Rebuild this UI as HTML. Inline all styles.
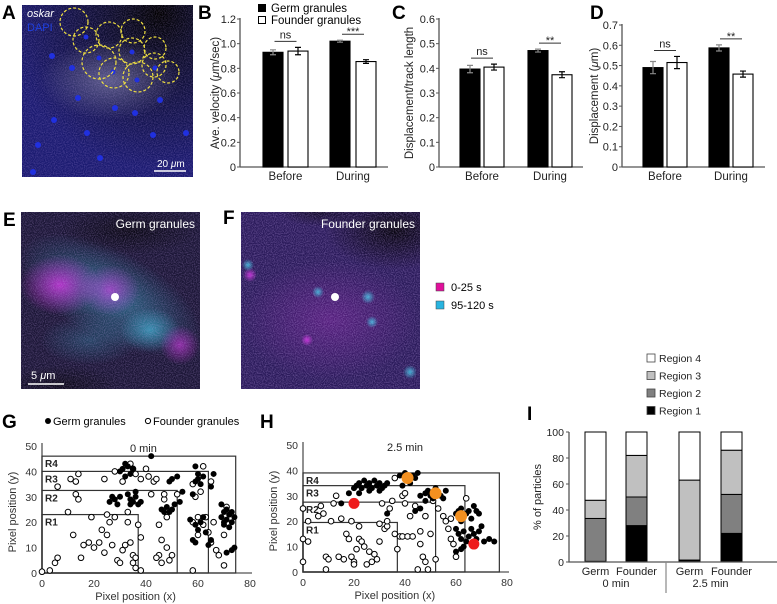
<!DOCTYPE html>
<html><head><meta charset="utf-8"><style>
html,body{margin:0;padding:0;background:#fff;}
svg{display:block;font-family:"Liberation Sans",Arial,sans-serif;}
</style></head><body>
<svg id="fig" width="777" height="604" viewBox="0 0 777 604">
<defs>
<radialGradient id="gA" cx="0.8" cy="0.05" r="0.9"><stop offset="0" stop-color="#000"/><stop offset="0.25" stop-color="#0b0b24"/><stop offset="1" stop-color="#1a1a70"/></radialGradient>
<radialGradient id="wh" cx="0.5" cy="0.5" r="0.5"><stop offset="0" stop-color="#8a8ab8" stop-opacity="0.6"/><stop offset="1" stop-color="#8a8ab8" stop-opacity="0"/></radialGradient>
<radialGradient id="mg" cx="0.5" cy="0.5" r="0.5"><stop offset="0" stop-color="#d030e0" stop-opacity="0.9"/><stop offset="1" stop-color="#d030e0" stop-opacity="0"/></radialGradient>
<radialGradient id="cy" cx="0.5" cy="0.5" r="0.5"><stop offset="0" stop-color="#40c0e0" stop-opacity="0.9"/><stop offset="1" stop-color="#40c0e0" stop-opacity="0"/></radialGradient>
<radialGradient id="dk" cx="0.5" cy="0.5" r="0.5"><stop offset="0" stop-color="#000" stop-opacity="0.9"/><stop offset="1" stop-color="#000" stop-opacity="0"/></radialGradient>
<filter id="noise" x="0" y="0" width="100%" height="100%"><feTurbulence type="fractalNoise" baseFrequency="0.9" numOctaves="1" seed="3"/><feColorMatrix type="matrix" values="0 0 0 0 0.6  0 0 0 0 0.4  0 0 0 0 0.9  0 0 0 1.2 -0.45"/></filter>
<clipPath id="clipE"><rect x="21" y="212" width="179" height="177"/></clipPath>
<clipPath id="clipF"><rect x="241" y="212" width="179" height="177"/></clipPath>
<clipPath id="clipA"><rect x="22" y="5" width="171" height="172"/></clipPath>
</defs>

<!-- Panel A -->
<g clip-path="url(#clipA)">
<rect x="22" y="5" width="171" height="172" fill="url(#gA)"/>
<ellipse cx="110" cy="80" rx="70" ry="40" fill="url(#wh)"/>
<rect x="22" y="5" width="171" height="172" filter="url(#noise)" opacity="0.5"/>
<g fill="#2030e0">
<circle cx="52" cy="56" r="3"/><circle cx="72" cy="68" r="3"/><circle cx="78" cy="98" r="3"/><circle cx="54" cy="120" r="3"/><circle cx="115" cy="108" r="3"/><circle cx="135" cy="113" r="3"/><circle cx="87" cy="133" r="3"/><circle cx="38" cy="145" r="3"/><circle cx="100" cy="158" r="3"/><circle cx="153" cy="135" r="3"/><circle cx="33" cy="172" r="3"/><circle cx="186" cy="133" r="3"/><circle cx="160" cy="100" r="3"/><circle cx="86" cy="37" r="2.5"/><circle cx="99" cy="58" r="2.5"/><circle cx="113" cy="72" r="2.5"/><circle cx="137" cy="80" r="2.5"/><circle cx="132" cy="52" r="2.5"/><circle cx="155" cy="68" r="2.5"/></g>
<g fill="none" stroke="#f0e040" stroke-width="1.2" stroke-dasharray="3,2">
<circle cx="74" cy="22" r="14"/><circle cx="86" cy="40" r="13"/><circle cx="109" cy="35" r="13"/><circle cx="133" cy="31" r="12"/><circle cx="132" cy="51" r="13"/><circle cx="155" cy="48" r="11"/><circle cx="99" cy="62" r="17"/><circle cx="114" cy="73" r="15"/><circle cx="138" cy="77" r="15"/><circle cx="154" cy="65" r="12"/><circle cx="168" cy="72" r="11"/></g>
<text x="27" y="17" font-size="11" font-style="italic" fill="#fff">oskar</text>
<text x="27" y="31" font-size="11" fill="#2040e0">DAPI</text>
<line x1="154" y1="171" x2="186" y2="171" stroke="#fff" stroke-width="1.5"/>
<text x="157" y="167" font-size="10" fill="#fff">20 <tspan font-style="italic">μ</tspan>m</text>
</g>
<text x="2" y="19" font-size="19" font-weight="bold">A</text>

<!-- Panels E, F -->
<g>
<text x="3" y="226" font-size="19" font-weight="bold">E</text>
<g clip-path="url(#clipE)">
<rect x="21" y="212" width="179" height="177" fill="#1a1535"/>
<ellipse cx="110" cy="295" rx="100" ry="45" transform="rotate(28 110 295)" fill="url(#cy)" opacity="0.55"/>
<ellipse cx="60" cy="285" rx="40" ry="30" fill="url(#mg)" opacity="0.9"/>
<ellipse cx="110" cy="290" rx="30" ry="25" fill="url(#mg)" opacity="0.7"/>
<ellipse cx="150" cy="330" rx="30" ry="22" fill="url(#cy)" opacity="0.7"/>
<ellipse cx="180" cy="345" rx="20" ry="20" fill="url(#mg)" opacity="0.7"/>
<ellipse cx="90" cy="340" rx="50" ry="25" fill="url(#cy)" opacity="0.3"/>
<ellipse cx="130" cy="230" rx="70" ry="25" fill="url(#dk)" opacity="0.7"/>
<ellipse cx="60" cy="385" rx="60" ry="20" fill="url(#dk)" opacity="0.6"/>
<rect x="21" y="212" width="179" height="177" filter="url(#noise)" opacity="0.6"/>
</g>
<text x="195" y="228" font-size="12" fill="#fff" text-anchor="end">Germ granules</text>
<circle cx="115" cy="297" r="4" fill="#fff"/>
<line x1="28" y1="384" x2="64" y2="384" stroke="#fff" stroke-width="1.5"/>
<text x="31" y="379" font-size="11" fill="#fff">5 <tspan font-style="italic">μ</tspan>m</text>
</g>
<g>
<text x="223" y="224" font-size="19" font-weight="bold">F</text>
<g clip-path="url(#clipF)">
<rect x="241" y="212" width="179" height="177" fill="#2a1a5a"/>
<ellipse cx="330" cy="320" rx="90" ry="60" fill="url(#mg)" opacity="0.3"/>
<ellipse cx="395" cy="230" rx="70" ry="40" fill="url(#dk)" opacity="0.95"/>
<ellipse cx="320" cy="212" rx="40" ry="15" fill="url(#dk)" opacity="0.6"/>
<circle cx="250" cy="275" r="7" fill="url(#mg)"/><circle cx="248" cy="265" r="6" fill="url(#cy)"/>
<circle cx="318" cy="292" r="6" fill="url(#cy)"/><circle cx="307" cy="340" r="6" fill="url(#mg)"/>
<circle cx="368" cy="297" r="7" fill="url(#cy)"/><circle cx="372" cy="322" r="6" fill="url(#cy)"/>
<circle cx="410" cy="372" r="7" fill="url(#cy)"/>
<rect x="241" y="212" width="179" height="177" filter="url(#noise)" opacity="0.7"/>
</g>
<text x="415" y="228" font-size="12" fill="#fff" text-anchor="end">Founder granules</text>
<circle cx="335" cy="297" r="4" fill="#fff"/>
<rect x="436" y="283" width="8" height="8" fill="#e0109b" stroke="#444" stroke-width="0.5"/>
<text x="451" y="291" font-size="11">0-25 s</text>
<rect x="436" y="301" width="8" height="8" fill="#28b4e0" stroke="#444" stroke-width="0.5"/>
<text x="451" y="309" font-size="11">95-120 s</text>
</g>

<g id="charts"></g>
</svg>
<script>
// ---------- Bar chart data (B, C, D) ----------
const barGroups = ["Before", "During"];
const velMeans = [0.93, 0.94, 1.02, 0.855];
const velErr = [0.02, 0.03, 0.008, 0.015];
const ratioMeans = [0.397, 0.405, 0.472, 0.374];
const ratioErr = [0.015, 0.012, 0.006, 0.012];
const dispMeans = [0.49, 0.515, 0.587, 0.458];
const dispErr = [0.03, 0.03, 0.015, 0.015];
const velTicks = ["0", "0.2", "0.4", "0.6", "0.8", "1.0", "1.2"];
const ratioTicks = ["0", "0.1", "0.2", "0.3", "0.4", "0.5", "0.6"];
const dispTicks = ["0", "0.1", "0.2", "0.3", "0.4", "0.5", "0.6", "0.7"];
const sigLabels = ["ns", "***", "**", "**"];

// ---------- Scatter data (G, H): [x, y] ----------
const gGerm = [[31,41],[32,43],[33,42],[30,40],[34,39],[32,38],[35,41],[42,46],[26,28],[28,29],[29,27],[30,30],[27,30],[33,31],[34,29],[35,28],[36,30],[37,27],[38,28],[34,27],[36,32],[46,25],[48,26],[50,25],[49,24],[51,27],[47,24],[50,37],[49,36],[52,38],[54,32],[53,28],[59,42],[60,37],[59,36],[61,35],[62,38],[60,39],[66,39],[58,31],[57,21],[59,19],[60,17],[62,22],[61,20],[63,16],[58,13],[59,12],[64,11],[65,13],[69,22],[70,24],[71,21],[72,23],[73,20],[70,19],[71,25],[72,18],[74,22],[69,27],[70,20],[73,24],[74,10],[73,9],[71,8],[65,34]];
const gFounder = [[0,0.5],[3,1],[5,4],[6,6],[6,34],[10,24],[11,37],[12,15],[13,36],[14,39],[13,31],[14,29],[15,6],[16,11],[18,12],[19,22],[20,10],[22,12],[23,17],[24,8],[25,15],[25,23],[26,20],[27,11],[28,40],[28,22],[29,5],[30,4],[31,9],[32,11],[33,20],[34,12],[35,7],[35,4],[36,6],[37,19],[38,14],[36,2],[38,1],[34,43],[35,41],[36,39],[38,37],[40,41],[41,38],[42,31],[43,36],[44,37],[45,19],[45,7],[44,6],[46,13],[46,4],[47,29],[48,10],[49,5],[50,7],[48,22],[47,31],[52,31],[58,1],[58,35],[59,30],[60,22],[60,15],[61,32],[62,19],[63,22],[65,36],[64,16],[65,12],[66,20],[67,9],[68,7],[70,3],[70,15],[71,26],[62,42],[58,20],[24,37],[31,36],[33,24]];
const hGerm = [[20,33],[21,34],[22,35],[23,33],[24,36],[25,34],[26,35],[27,33],[28,36],[29,34],[30,35],[31,33],[32,34],[33,35],[22,31],[26,32],[30,32],[18,31],[38,38],[40,39],[41,36],[42,35],[43,38],[44,37],[39,34],[45,39],[46,30],[48,31],[49,32],[50,30],[51,29],[52,33],[53,31],[54,30],[55,29],[56,32],[48,28],[44,24],[46,25],[33,23],[60,23],[61,24],[62,25],[63,22],[64,23],[65,24],[66,21],[67,26],[68,24],[69,23],[62,20],[60,17],[61,15],[62,13],[63,16],[64,12],[65,14],[66,17],[67,15],[68,13],[69,16],[63,10],[60,8],[62,9],[66,11],[71,12],[73,13],[75,12],[70,18],[15,27]];
const hFounder = [[0,25],[0,13],[0,4],[2,20],[2,12],[6,22],[7,26],[8,23],[9,6],[9,1],[10,5],[11,20],[12,27],[13,30],[14,6],[15,21],[16,5],[17,15],[18,13],[19,20],[19,6],[20,4],[20,3],[21,9],[22,13],[23,12],[22,18],[24,10],[25,3],[26,8],[27,4],[28,7],[29,5],[30,19],[30,12],[31,27],[32,17],[33,18],[34,25],[35,28],[36,15],[37,9],[38,14],[39,14],[40,27],[41,14],[42,22],[43,14],[44,26],[45,1],[46,11],[46,16],[47,6],[48,4],[48,22],[49,1],[50,15],[51,28],[52,5],[53,25],[55,22],[56,20],[57,17],[58,13],[59,11],[60,6],[39,30],[36,37],[40,31],[64,29],[58,21],[33,20]];
const hHighlightOrange = [[41,37],[52,31],[62,22]];
const hHighlightRed = [[20,27],[67,11]];

// ---------- Stacked bar data (I) ----------
const stackCats = ["Germ", "Founder", "Germ", "Founder"];
const region1 = [0.5, 28, 1.5, 22];
const region2 = [33, 22, 0, 30];
const region3 = [14, 32, 61.5, 34];
const region4 = [52.5, 18, 37, 14];
const stackTicks = ["0", "20", "40", "60", "80", "100"];
const timeLabels = ["0 min", "2.5 min"];

const NS = "http://www.w3.org/2000/svg";
const root = document.getElementById("charts");
function mk(tag, attrs, parent, text) {
  const e = document.createElementNS(NS, tag);
  for (const k in attrs) e.setAttribute(k, attrs[k]);
  if (text !== undefined) e.textContent = text;
  (parent || root).appendChild(e);
  return e;
}

// ---------- bar charts ----------
function barChart(cfg) {
  const g = mk("g", {});
  
  
  const tmax = parseFloat(cfg.ticks[cfg.ticks.length - 1]);
  const y = v => cfg.y0 - v / tmax * (cfg.y0 - cfg.yTop);
  const letter = mk("text", {x: cfg.lx, y: 19, "font-size": 19, "font-weight": "bold"}, g, cfg.letter);
  
  
  const ax = mk("line", {x1: cfg.ax, y1: cfg.yTop - 1, x2: cfg.ax, y2: cfg.y0, stroke: "#555", "stroke-width": 1.3}, g);
  
  
  const xa = mk("line", {x1: cfg.ax, y1: cfg.y0, x2: cfg.axEnd, y2: cfg.y0, stroke: "#555", "stroke-width": 1.3}, g);
  
  
  cfg.ticks.forEach(t => {
    const yy = y(parseFloat(t));
    const tl = mk("line", {x1: cfg.ax - 3, y1: yy, x2: cfg.ax, y2: yy, stroke: "#555"}, g);
    
    
    const tt = mk("text", {x: cfg.ax - 4, y: yy + 4, "font-size": 11, "text-anchor": "end", fill: "#222"}, g, t);
    
    
  });
  const yt = mk("text", {transform: `translate(${cfg.tx},${(cfg.y0 + cfg.yTop) / 2}) rotate(-90)`, "font-size": 11.5, "text-anchor": "middle", fill: "#222"}, g);
  
  
  yt.innerHTML = cfg.ytitle;
  cfg.means.forEach((m, i) => {
    const bx = cfg.bars[i];
    const b = mk("rect", {x: bx, y: y(m), width: cfg.bw, height: cfg.y0 - y(m), fill: i % 2 ? "#fff" : "#000", stroke: "#000", "stroke-width": 1.1}, g);
    
    
    const cx = bx + cfg.bw / 2;
    const e = cfg.err[i];
    const eb = mk("path", {d: `M${cx},${y(m + e)}V${y(m - e)}M${cx - 3},${y(m + e)}H${cx + 3}M${cx - 3},${y(m - e)}H${cx + 3}`, stroke: i % 2 ? "#000" : "#888", "stroke-width": 1.2, fill: "none"}, g);
    
    
  });
  barGroups.forEach((lab, k) => {
    const cx = (cfg.bars[2 * k] + cfg.bars[2 * k + 1] + cfg.bw) / 2;
    const t = mk("text", {x: cx, y: 180, "font-size": 11.5, "text-anchor": "middle", fill: "#222"}, g, lab);
    
    
    const top = Math.max(cfg.means[2 * k] + cfg.err[2 * k], cfg.means[2 * k + 1] + cfg.err[2 * k + 1]);
    const sy = y(top) - 6;
    const sl = mk("line", {x1: cx - 11, y1: sy, x2: cx + 11, y2: sy, stroke: "#333"}, g);
    
    
    const lbl = k === 0 ? "ns" : cfg.sig;
    const st = mk("text", {x: cx, y: k === 0 ? sy - 3 : sy + 1, "font-size": 11, "text-anchor": "middle", fill: "#222"}, g, lbl);
    
    
  });
}
barChart({name: "panel-b-velocity-chart", letter: "B", lx: 198, ax: 240, axEnd: 388, y0: 167, yTop: 19, tx: 219, ticks: velTicks, means: velMeans, err: velErr, bars: [263, 288, 330, 356], bw: 20, ytitle: 'Ave. velocity (<tspan font-style="italic">μ</tspan>m/sec)', sig: sigLabels[1]});
barChart({name: "panel-c-ratio-chart", letter: "C", lx: 392, ax: 439, axEnd: 583, y0: 167, yTop: 19, tx: 413, ticks: ratioTicks, means: ratioMeans, err: ratioErr, bars: [460, 484, 528, 552], bw: 20, ytitle: 'Displacement/track length', sig: sigLabels[2]});
barChart({name: "panel-d-displacement-chart", letter: "D", lx: 590, ax: 622, axEnd: 765, y0: 167, yTop: 25, tx: 598, ticks: dispTicks, means: dispMeans, err: dispErr, bars: [643, 667, 709, 733], bw: 20, ytitle: 'Displacement (<tspan font-style="italic">μ</tspan>m)', sig: sigLabels[3]});

// legend B
const lg = mk("g", {});


const l1 = mk("rect", {x: 258, y: 4, width: 8, height: 8, fill: "#000"}, lg);


const l1t = mk("text", {x: 271, y: 12, "font-size": 11.5}, lg, "Germ granules");


const l2 = mk("rect", {x: 258.5, y: 16.5, width: 7, height: 7, fill: "#fff", stroke: "#000"}, lg);


const l2t = mk("text", {x: 271, y: 24, "font-size": 11.5}, lg, "Founder granules");



// ---------- scatter panels ----------
function scatter(cfg) {
  const g = mk("g", {});
  
  
  const X = v => cfg.ox + v * cfg.sx;
  const Y = v => cfg.oy - v * cfg.sy;
  const letter = mk("text", {x: cfg.lx, y: 428, "font-size": 19, "font-weight": "bold"}, g, cfg.letter);
  
  
  const axes = mk("path", {d: `M${X(0)},${Y(50) - 3}V${Y(0)}H${X(80) + 2}`, stroke: "#555", "stroke-width": 1.3, fill: "none"}, g);
  
  
  [0, 10, 20, 30, 40, 50].forEach(v => {
    const t = mk("text", {x: X(0) - 5, y: Y(v) + 4, "font-size": 10.5, "text-anchor": "end", fill: "#333"}, g, String(v));
    
    
  });
  cfg.xt.forEach(v => {
    const t = mk("text", {x: X(v), y: Y(0) + 14, "font-size": 10.5, "text-anchor": "middle", fill: "#333"}, g, String(v));
    
    
  });
  const xt = mk("text", {x: X(36), y: Y(0) + 27, "font-size": 11, "text-anchor": "middle", fill: "#333"}, g, "Pixel position (x)");
  
  
  const yt = mk("text", {transform: `translate(${X(0) - 26},${Y(24)}) rotate(-90)`, "font-size": 11, "text-anchor": "middle", fill: "#333"}, g, "Pixel position  (y)");
  
  
  const tt = mk("text", {x: X(cfg.titleX), y: Y(50) + 6, "font-size": 11, "text-anchor": "middle", fill: "#222"}, g, cfg.title);
  
  
  cfg.regions.forEach((r, i) => {
    const rr = mk("rect", {x: X(0), y: Y(r[1]), width: X(r[0]) - X(0), height: Y(0) - Y(r[1]), fill: "none", stroke: "#333", "stroke-width": 1.2}, g);
    
    
  });
  cfg.founder.forEach(p => {
    const c = mk("circle", {cx: X(p[0]), cy: Y(p[1]), r: 2.8, fill: "#fff", stroke: "#000", "stroke-width": 1}, g);
    
    
  });
  cfg.germ.forEach(p => {
    const c = mk("circle", {cx: X(p[0]), cy: Y(p[1]), r: 3, fill: "#000"}, g);
    
    
  });
  (cfg.orange || []).forEach(p => {
    const c = mk("circle", {cx: X(p[0]), cy: Y(p[1]), r: 6, fill: "#f39020"}, g);
    
    
  });
  (cfg.red || []).forEach(p => {
    const c = mk("circle", {cx: X(p[0]), cy: Y(p[1]), r: 5.5, fill: "#ee1c1c"}, g);
    
    
  });
  cfg.regions.forEach((r, i) => {
    const t = mk("text", {x: X(0) + 3, y: Y(r[1]) + 11, "font-size": 10, "font-weight": "bold", fill: "#222"}, g, "R" + (i + 1));
    
    
  });
}
scatter({name: "panel-g-scatter", letter: "G", lx: 2, ox: 42, oy: 573, sx: 2.6, sy: 2.54, xt: [0, 20, 40, 60, 80], title: "0 min", titleX: 39, regions: [[37, 23], [52, 32.5], [64, 40], [74.5, 46]], germ: gGerm, founder: gFounder});
scatter({name: "panel-h-scatter", letter: "H", lx: 260, ox: 303, oy: 572, sx: 2.55, sy: 2.54, xt: [0, 20, 40, 60, 80], title: "2.5 min", titleX: 40, regions: [[37, 19.5], [52, 27.5], [63.5, 34], [77, 39]], germ: hGerm, founder: hFounder, orange: hHighlightOrange, red: hHighlightRed});
// legend G
const gl = mk("g", {});


const g1 = mk("circle", {cx: 48, cy: 421, r: 3, fill: "#000"}, gl);


const g1t = mk("text", {x: 53, y: 425, "font-size": 11}, gl, "Germ granules");


const g2 = mk("circle", {cx: 148, cy: 421, r: 2.6, fill: "#fff", stroke: "#000"}, gl);


const g2t = mk("text", {x: 153, y: 425, "font-size": 11}, gl, "Founder granules");



// ---------- stacked bars (I) ----------
(function () {
  const g = mk("g", {});
  
  
  const ax = 569, y0 = 562, yTop = 432;
  const Y = v => y0 - v / 100 * (y0 - yTop);
  const barX = [585, 626, 679, 721], bw = 21;
  const letter = mk("text", {x: 527, y: 420, "font-size": 19, "font-weight": "bold"}, g, "I");
  
  
  const series = [region1, region2, region3, region4];
  const colors = ["#000", "#808080", "#c0c0c0", "#fff"];
  barX.forEach((bx, i) => {
    let acc = 0;
    series.forEach((s, k) => {
      const v = s[i];
      const r = mk("rect", {x: bx, y: Y(acc + v), width: bw, height: Y(acc) - Y(acc + v), fill: colors[k], stroke: "#000", "stroke-width": 1}, g);
      
      
      acc += v;
    });
    const t = mk("text", {x: bx + bw / 2, y: 575, "font-size": 11, "text-anchor": "middle", fill: "#222"}, g, stackCats[i]);
    
    
  });
  timeLabels.forEach((t, k) => {
    const cx = (barX[2 * k] + barX[2 * k + 1] + bw) / 2;
    const tt = mk("text", {x: cx, y: 587, "font-size": 11, "text-anchor": "middle", fill: "#222"}, g, t);
    
    
  });
  const axes = mk("path", {d: `M${ax},${yTop}V${y0}H777`, stroke: "#555", "stroke-width": 1.3, fill: "none"}, g);
  
  
  const dv = mk("line", {x1: 666, y1: y0, x2: 666, y2: 593, stroke: "#888", "stroke-width": 1.2}, g);
  
  
  stackTicks.forEach(t => {
    const yy = Y(parseFloat(t));
    const tl = mk("line", {x1: ax - 3, y1: yy, x2: ax, y2: yy, stroke: "#555"}, g);
    
    
    const tt = mk("text", {x: ax - 5, y: yy + 4, "font-size": 10.5, "text-anchor": "end", fill: "#222"}, g, t);
    
    
  });
  const yt = mk("text", {transform: `translate(${ax - 28},${(y0 + yTop) / 2}) rotate(-90)`, "font-size": 11, "text-anchor": "middle", fill: "#222"}, g, "% of particles");
  
  
  const names = ["Region 4", "Region 3", "Region 2", "Region 1"];
  const lc = ["#fff", "#c0c0c0", "#808080", "#000"];
  names.forEach((n, k) => {
    const yy = 354 + k * 17.5;
    const r = mk("rect", {x: 647, y: yy, width: 8, height: 8, fill: lc[k], stroke: "#444", "stroke-width": 0.8}, g);
    
    
    const t = mk("text", {x: 659, y: yy + 8, "font-size": 10.5, fill: "#222"}, g, n);
    
    
  });
})();
</script>
</body></html>
